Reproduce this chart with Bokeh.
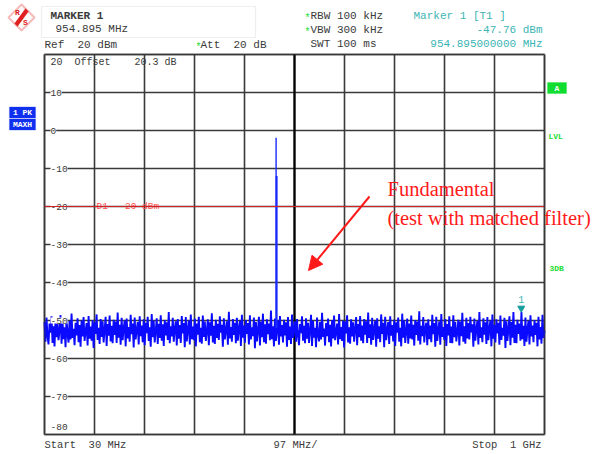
import numpy as np
from bokeh.plotting import figure
from bokeh.models import (Label, LabelSet, ColumnDataSource, Arrow, NormalHead,
                          BoxAnnotation, PolyAnnotation, Range1d)
from bokeh.embed import file_html
from bokeh.resources import INLINE
from bokeh.core.properties import value

# ---------------- data ----------------
f_start, f_stop = 30.0, 1000.0          # MHz
f_div = 97.0                              # MHz / div
ref_top, ref_bottom = 20.0, -80.0         # dBm
y_grid = [20, 10, 0, -10, -20, -30, -40, -50, -60, -70, -80]
y_tick_values = [10, 0, -10, -20, -30, -40, -50, -60, -70]
y_tick_labels = ["10", "0", "-10", "-20", "-30", "-40", "-50", "-60", "-70"]
bottom_tick_label = "-80"

# max-hold noise trace (dBm), evenly spaced 30 MHz .. 1 GHz
trace_db = [
    -50.4, -55.6, -49.2, -54.1, -56.3, -50.8, -53.2, -48.9, -55.9, -51.5,
    -56.8, -49.7, -54.4, -50.9, -55.2, -52.6, -48.6, -56.1, -50.3, -54.9,
    -51.8, -57.0, -49.5, -53.7, -55.8, -50.1, -55.0, -48.2, -54.6, -52.2,
    -56.5, -50.6, -53.9, -49.4, -55.7, -51.2, -56.9, -50.0, -54.2, -49.1,
    -55.4, -52.9, -50.7, -56.6, -48.8, -54.8, -51.6, -55.3, -49.9, -57.2,
    -50.5, -53.5, -48.4, -55.1, -51.9, -56.2, -49.6, -54.3, -50.2, -55.8,
    -52.4, -49.0, -56.7, -50.9, -54.0, -48.7, -55.5, -51.4, -56.0, -49.8,
    -53.8, -50.3, -55.9, -47.9, -54.5, -51.1, -56.4, -49.3, -55.2, -52.0,
    -50.0, -56.8, -49.5, -54.7, -51.7, -55.6, -48.5, -53.6, -50.8, -57.1,
    -49.2, -55.0, -52.5, -50.4, -56.3, -48.9, -54.1, -51.3, -55.7, -49.7,
    -56.5, -50.6, -53.3, -49.0, -55.4, -51.8, -56.9, -48.3, -54.4, -50.1,
    -55.8, -52.7, -49.4, -56.2, -50.9, -54.6, -48.6, -55.3, -51.0, -56.7,
    -49.9, -53.9, -50.5, -55.1, -47.8, -56.0, -51.5, -54.2, -49.3, -55.6,
    -52.1, -50.2, -56.6, -49.6, -54.8, -51.2, -55.9, -48.8, -53.4, -50.7,
    -57.0, -49.1, -55.5, -52.3, -50.0, -56.3, -48.4, -54.9, -51.6, -55.2,
    -49.5, -56.8, -50.8, -53.7, -49.0, -55.7, -51.9, -56.1, -48.7, -54.3,
    -50.3, -55.4, -52.8, -49.7, -56.5, -50.5, -54.0, -48.1, -55.8, -51.4,
    -56.2, -49.8, -54.6, -50.9, -55.1, -48.9, -53.2, -51.1, -56.9, -49.4,
    -55.0, -52.4, -50.2, -56.4, -47.7, -54.7, -51.7, -55.6, -49.6, -53.8,
    -50.6, -56.0, -49.3, -55.3, -52.0, -50.1, -56.7, -48.5, -54.5, -51.3,
    -55.9, -49.9, -53.5, -50.7, -56.3, -48.6, -55.0, -51.8, -54.1, -49.2,
    -57.3, -50.4, -55.5, -52.6, -49.0, -56.6, -50.3, -54.4, -48.2, -55.7,
    -51.0, -56.1, -49.7, -53.6, -50.8, -55.2, -47.4, -54.9, -51.5, -56.8,
    -49.5, -55.4, -52.2, -50.0, -56.4, -48.8, -54.2, -51.2, -55.8, -49.8,
    -53.9, -50.5, -56.9, -49.1, -55.1, -51.6, -56.2, -48.4, -54.6, -52.5,
    -50.2, -55.6, -49.6, -54.0, -56.5, -50.9, -53.3, -48.9, -55.3, -51.4,
    -56.0, -49.4, -54.8, -50.6, -55.9, -52.7, -48.5, -56.7, -50.1, -54.5,
    -51.9, -57.0, -49.2, -53.8, -55.5, -50.4, -55.0, -48.0, -54.3, -52.1,
    -56.6, -50.7, -54.1, -49.5, -55.7, -51.1, -56.8, -49.9, -54.7, -48.7,
    -55.2, -53.0, -50.8, -56.3, -48.3, -54.9, -51.7, -55.4, -50.0, -57.1,
    -50.3, -53.4, -48.6, -55.8, -51.8, -56.1, -49.7, -54.2, -50.5, -55.6,
    -52.3, -49.1, -56.5, -50.9, -54.4, -48.8, -55.3, -51.3, -56.0, -49.6,
    -53.7, -50.2, -55.9, -47.9, -54.6, -51.0, -56.4, -49.3, -55.1, -52.4,
    -50.1, -56.9, -49.4, -54.8, -51.5, -55.7, -48.4, -53.5, -50.6, -57.0,
    -49.0, -55.2, -52.6, -50.4, -56.2, -48.9, -54.0, -51.2, -55.5, -49.8,
    -56.7, -50.5, -53.2, -49.2, -55.6, -51.9, -56.8, -48.2, -54.5, -50.0,
    -55.9, -52.8, -49.5, -56.1, -50.8, -54.7, -48.7, -55.0, -51.1, -56.6,
    -49.9, -53.8, -50.3, -55.3, -47.6, -56.3, -51.4, -54.1, -49.1, -55.8,
    -52.0, -50.6, -56.5, -49.7, -54.9, -51.3, -55.7, -48.5, -53.6, -50.7,
    -56.9, -49.0, -55.4, -52.5, -50.2, -56.4, -48.3, -54.3, -51.7, -55.1,
    -49.6, -56.7, -50.9, -53.9, -48.9, -55.9, -51.6, -56.0, -48.6, -54.4,
    -50.4, -55.5, -52.9, -49.8, -56.6, -50.3, -54.1, -48.0, -55.6, -51.5,
    -56.1, -49.3, -54.7, -50.7, -55.0, -49.0, -53.1, -51.0, -56.9, -49.5,
    -55.3, -52.2, -50.1, -56.3, -47.8, -54.6, -51.8, -55.7, -49.4, -53.7,
    -50.5, -56.2, -49.1, -55.2, -52.1, -50.0, -56.8, -48.4, -54.8, -51.2,
    -55.8, -49.7, -53.4, -50.6, -56.4, -48.7, -55.1, -51.9, -54.0, -49.3,
    -57.2, -50.2, -55.4, -52.4, -48.9, -56.5, -50.4, -54.5, -47.8, -55.9,
    -51.1, -56.0, -49.8, -53.5, -50.8, -55.3, -47.76, -54.9, -51.4, -56.7,
    -49.2, -55.6, -52.3, -50.1, -56.3, -48.6, -54.2, -51.3, -55.7, -49.9,
    -53.8, -50.6, -56.8, -49.0, -55.0, -51.7, -56.1, -48.5, -54.6, -52.6,
]
trace_freq = np.linspace(f_start, f_stop, len(trace_db))

# fundamental (carrier) line
spike_freqs = [479.3, 480.3]
spike_top_db = [-1.9, -12.0]
spike_base_db = [-52.0, -52.0]

display_line_db = -20.0
marker_freq = 954.895
marker_db = -47.76

# ---------------- figure (frame = whole canvas) ----------------
W, H = 597, 450
PX_L, PX_R, PX_T, PX_B = 44, 544, 54, 434     # screen position of the measurement grid
xs = (f_stop - f_start) / (PX_R - PX_L)
ys = (ref_top - ref_bottom) / (PX_B - PX_T)

p = figure(width=W, height=H, output_backend="svg", toolbar_location=None,
           x_axis_type=None, y_axis_type=None,
           x_range=Range1d(f_start - PX_L * xs, f_stop + (W - PX_R) * xs),
           y_range=Range1d(ref_bottom - (H - PX_B) * ys, ref_top + PX_T * ys),
           min_border=0)
p.background_fill_color = "white"
p.border_fill_color = "white"
p.outline_line_color = None

MONO = "Liberation Mono"
GREY = "#3a3a3a"
TEAL = "#3cb4b4"
GREEN = "#22dd33"
RED = "#ff2020"
NB = "\u00a0"

# grid
x_grid = [f_start + f_div * k for k in range(11)]
p.segment(x0=x_grid, y0=[ref_bottom] * len(x_grid), x1=x_grid, y1=[ref_top] * len(x_grid),
          line_color="#3a3a3a", line_width=1.6)
p.segment(x0=[f_start] * len(y_grid), y0=y_grid, x1=[f_stop] * len(y_grid), y1=y_grid,
          line_color="#3a3a3a", line_width=1.6)
p.segment(x0=[x_grid[5]], y0=[ref_bottom], x1=[x_grid[5]], y1=[ref_top],
          line_color="black", line_width=2.2)

# y tick labels inside the grid
tick_src = ColumnDataSource(dict(x=[f_start] * len(y_tick_values), y=y_tick_values, t=y_tick_labels))
p.add_layout(LabelSet(x="x", y="y", text="t", source=tick_src, x_offset=6,
                      text_font=value(MONO), text_font_size="9.5px", text_color=GREY,
                      text_baseline="middle", background_fill_color="white"))
p.add_layout(Label(x=f_start, y=ref_bottom, text=bottom_tick_label, x_offset=6, y_offset=8,
                   text_font=MONO, text_font_size="9.5px", text_color=GREY,
                   text_baseline="middle", background_fill_color="white"))

# display line D1
p.segment(x0=[f_start], y0=[display_line_db], x1=[f_stop], y1=[display_line_db],
          line_color="#d42020", line_width=1.2, level="overlay")
p.add_layout(Label(x=f_start, y=display_line_db, x_offset=52, text="D1" + NB * 2 + "-20 dBm",
                   text_font=MONO, text_font_size="9.5px", text_color="#ff5050",
                   text_baseline="middle"))

# trace
p.line(trace_freq, trace_db, line_color="#0a0aff", line_width=1.9)
p.segment(x0=spike_freqs, y0=spike_base_db, x1=spike_freqs, y1=spike_top_db,
          line_color="#1a2aff", line_width=[1.4, 2.0])

# border of the grid
p.add_layout(BoxAnnotation(left=f_start, right=f_stop, bottom=ref_bottom, top=ref_top,
                           fill_alpha=0, line_color="#333333", line_width=2.6))

# marker 1
p.scatter([marker_freq], [marker_db + 1.0], marker="inverted_triangle", size=7,
          fill_color="#159c9c", line_color="#159c9c")
p.add_layout(Label(x=marker_freq, y=marker_db, y_offset=12, text="1", text_align="center",
                   text_font=MONO, text_font_size="10px", text_color=TEAL, text_baseline="middle"))


# ---------- screen-positioned texts (reference pixel coordinates) ----------
def sx(x):
    return x


def sy(y):
    return H - y


def txt(s, x, y, size="11px", color=GREY, align="left", bold=False, font=MONO):
    p.add_layout(Label(x=sx(x), y=sy(y), x_units="screen", y_units="screen", text=s,
                       text_font=font, text_font_size=size, text_color=color,
                       text_align=align, text_baseline="middle",
                       text_font_style="bold" if bold else "normal"))


def box(l, r, t, b, fill, line):
    p.add_layout(BoxAnnotation(left=sx(l), right=sx(r), top=sy(t), bottom=sy(b),
                               left_units="screen", right_units="screen",
                               top_units="screen", bottom_units="screen",
                               fill_color=fill, fill_alpha=1, line_color=line, line_width=1.2))


# logo
p.add_layout(PolyAnnotation(xs=[sx(8), sx(21), sx(34), sx(21)], ys=[sy(17), sy(4), sy(17), sy(30)],
                            xs_units="screen", ys_units="screen",
                            fill_color="white", fill_alpha=1, line_color="#e02020", line_width=2.2))
p.add_layout(PolyAnnotation(xs=[sx(25), sx(28), sx(17), sx(14)], ys=[sy(8), sy(11), sy(26), sy(23)],
                            xs_units="screen", ys_units="screen",
                            fill_color="#e02020", fill_alpha=1, line_color="#e02020", line_width=0.5))
txt("R", 17, 12, size="8px", color="#e02020", bold=True, align="center")
txt("S", 25, 22, size="8px", color="#e02020", bold=True, align="center")

# marker box
box(41, 255, 6, 37, "white", "#c8c8c8")
txt("MARKER 1", 50, 15, size="11px", bold=True)
txt("954.895 MHz", 55, 28, size="11px")

txt("Ref" + NB * 2 + "20 dBm", 44, 44, size="11px")
txt("*", 195, 47, size="10px", color=GREEN)
txt("Att" + NB * 2 + "20 dB", 200, 44, size="11px")

txt("*", 304, 18, size="10px", color=GREEN)
txt("RBW 100 kHz", 310, 15, size="11px")
txt("*", 304, 32, size="10px", color=GREEN)
txt("VBW 300 kHz", 310, 29, size="11px")
txt("SWT 100 ms", 310, 43, size="11px")

txt("Marker 1 [T1 ]", 413, 15, size="11px", color=TEAL)
txt("-47.76 dBm", 542, 29, size="11px", color=TEAL, align="right")
txt("954.895000000 MHz", 542, 43, size="11px", color=TEAL, align="right")

txt("20" + NB * 2 + "Offset" + NB * 4 + "20.3 dB", 50, 62, size="10px")

# left info boxes
for s, yc in [("1 PK", 112), ("MAXH", 124)]:
    box(9, 35, yc - 5.5, yc + 5.5, "#1030f0", "#1030f0")
    txt(s, 22, yc, size="8px", color="white", bold=True, align="center")

# right side
box(547, 566, 82, 93, "#10dd30", "#10dd30")
txt("A", 556.5, 87.5, size="8px", color="white", bold=True, align="center")
txt("LVL", 548, 136, size="8px", color=GREEN, bold=True)
txt("3DB", 549, 268, size="8px", color=GREEN, bold=True)

# bottom
txt("Start" + NB * 2 + "30 MHz", 44, 444, size="10.5px")
txt("97 MHz/", 273, 444, size="10.5px")
txt("Stop" + NB * 2 + "1 GHz", 541, 444, size="10.5px", align="right")

# annotation
SERIF = "Liberation Serif"
p.add_layout(Label(x=sx(387), y=sy(188), x_units="screen", y_units="screen", text="Fundamental",
                   text_font=SERIF, text_font_size="20.5px", text_color="#ff1a1a", text_baseline="alphabetic"))
p.add_layout(Label(x=sx(387), y=sy(217), x_units="screen", y_units="screen",
                   text="(test with matched filter)",
                   text_font=SERIF, text_font_size="20.5px", text_color="#ff1a1a", text_baseline="alphabetic"))
p.add_layout(Arrow(x_start=sx(369), y_start=sy(196), x_end=sx(308), y_end=sy(270),
                   start_units="screen", end_units="screen",
                   line_color="#ff1a1a", line_width=2,
                   end=NormalHead(size=14, fill_color="#ff1a1a", line_color="#ff1a1a")))

open("out.html", "w").write(file_html(p, INLINE))
